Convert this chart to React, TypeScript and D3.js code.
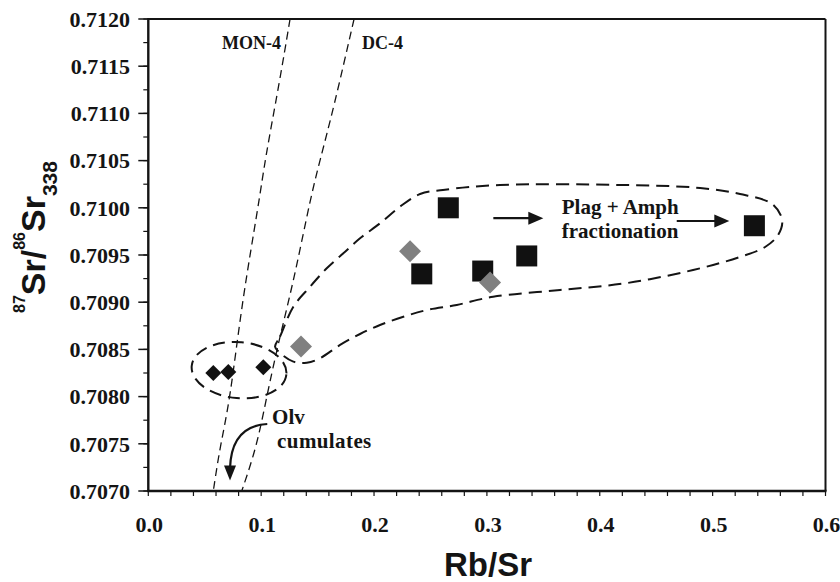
import React from "react";
import * as d3 from "d3";

// ---- data ----
const blackDiamondRbSr = [0.0576, 0.0709, 0.1019];
const blackDiamondSr = [0.70825, 0.70826, 0.70831];
const grayDiamondRbSr = [0.1353, 0.2319, 0.3028];
const grayDiamondSr = [0.70853, 0.70954, 0.70921];
const squareRbSr = [0.2423, 0.2658, 0.2963, 0.3353, 0.537];
const squareSr = [0.7093, 0.71, 0.70933, 0.70949, 0.70981];

const mon4RbSr = [0.1256, 0.1161, 0.1034, 0.0984, 0.0828, 0.0724, 0.0635, 0.0576];
const mon4Sr = [0.712, 0.71132, 0.71051, 0.71008, 0.70899, 0.70796, 0.70747, 0.707];
const dc4RbSr = [0.1823, 0.1639, 0.1522, 0.1433, 0.1315, 0.1211, 0.1138, 0.1049, 0.0961, 0.0828];
const dc4Sr = [0.712, 0.71104, 0.71051, 0.71008, 0.70938, 0.70885, 0.70849, 0.708, 0.70747, 0.707];

const envelopeRbSr = [
  0.1123, 0.1167, 0.1285, 0.1433, 0.1581, 0.1728, 0.1876, 0.2053, 0.223, 0.2408, 0.2611,
  0.3116, 0.418, 0.4889, 0.5243, 0.5527, 0.5616, 0.558, 0.5465, 0.5243, 0.4827, 0.4242,
  0.3648, 0.3055, 0.2733, 0.2467, 0.226, 0.2053, 0.1876, 0.1699, 0.1521, 0.1404, 0.1285,
  0.1167,
];
const envelopeSr = [
  0.708529, 0.708635, 0.708952, 0.709164, 0.709359, 0.709518, 0.709677, 0.709836, 0.710012,
  0.710146, 0.710189, 0.710242, 0.710242, 0.71021, 0.710146, 0.71004, 0.709871, 0.709712,
  0.709585, 0.709479, 0.709341, 0.709203, 0.709129, 0.709058, 0.708971, 0.708917, 0.708846,
  0.708759, 0.708663, 0.708547, 0.708406, 0.708359, 0.70837, 0.708462,
];

// small ellipse around the low Rb/Sr group: centre and radii in data units
const olvGroupCenter = [0.0804, 0.70828];
const olvGroupRadius = [0.0421, 0.000297];

const xTickValues = [0, 0.1, 0.2, 0.3, 0.4, 0.5, 0.6];
const yTickValues = [0.707, 0.7075, 0.708, 0.7085, 0.709, 0.7095, 0.71, 0.7105, 0.711, 0.7115, 0.712];

// annotation anchors (data units)
const arrow1 = [[0.3057, 0.70989], [0.35, 0.70989]];
const arrow2 = [[0.4682, 0.70986], [0.5148, 0.70986]];
const olvArrow = [[0.1054, 0.70771], [0.0735, 0.70769], [0.0724, 0.70724]];
const olvTip = [0.0724, 0.70711];

const W = 840;
const H = 582;

export default function App() {
  const x = d3.scaleLinear().domain([0, 0.6]).range([148.3, 825.5]);
  const y = d3.scaleLinear().domain([0.707, 0.712]).range([491, 19]);

  const left = x(0), right = x(0.6), top = y(0.712), bottom = y(0.707);

  const xMinor = d3.range(0, 0.6001, 0.02);
  const yMinor = d3.range(0.707, 0.71201, 0.00025);

  const mkLine = (xs: number[], ys: number[], curve: any) =>
    d3
      .line<number>()
      .x((d, i) => x(xs[i]))
      .y((d, i) => y(ys[i]))
      .curve(curve)(xs) as string;

  const mon4Path = mkLine(mon4RbSr, mon4Sr, d3.curveBasis);
  const dc4Path = mkLine(dc4RbSr, dc4Sr, d3.curveBasis);
  const envPath = mkLine(envelopeRbSr, envelopeSr, d3.curveCatmullRomClosed.alpha(0.5));

  const diamond = (cx: number, cy: number, h: number) =>
    `M${cx},${cy - h}L${cx + h},${cy}L${cx},${cy + h}L${cx - h},${cy}Z`;

  const ecx = x(olvGroupCenter[0]);
  const ecy = y(olvGroupCenter[1]);
  const erx = x(olvGroupCenter[0] + olvGroupRadius[0]) - ecx;
  const ery = ecy - y(olvGroupCenter[1] + olvGroupRadius[1]);

  const serif = "'Liberation Serif', 'Times New Roman', serif";
  const sans = "'Liberation Sans', Arial, sans-serif";
  const ink = "#141414";

  const straightArrow = (a: number[][], key: string) => {
    const x1 = x(a[0][0]), y1 = y(a[0][1]), x2 = x(a[1][0]), y2 = y(a[1][1]);
    return (
      <g key={key}>
        <line x1={x1} y1={y1} x2={x2 - 12} y2={y2} stroke={ink} strokeWidth={2.2} />
        <path d={`M${x2},${y2}L${x2 - 15},${y2 - 6.5}L${x2 - 15},${y2 + 6.5}Z`} fill={ink} />
      </g>
    );
  };

  const tipX = x(olvTip[0]);
  const tipY = y(olvTip[1]);
  const olvPath = `M${x(olvArrow[0][0])},${y(olvArrow[0][1])}Q${x(olvArrow[1][0])},${y(olvArrow[1][1])} ${x(
    olvArrow[2][0]
  )},${y(olvArrow[2][1])}`;

  return (
    <svg
      width={W}
      height={H}
      viewBox={`0 0 ${W} ${H}`}
      style={{ position: "absolute", left: 0, top: 0, background: "#fff" }}
    >
      <rect x={0} y={0} width={W} height={H} fill="#fff" />
      <defs>
        <clipPath id="plotClip">
          <rect x={left} y={top} width={right - left} height={bottom - top} />
        </clipPath>
      </defs>

      {/* model curves */}
      <g clipPath="url(#plotClip)" fill="none" stroke={ink} strokeWidth={1.3} strokeDasharray="8 5">
        <path d={mon4Path} />
        <path d={dc4Path} />
      </g>

      {/* envelopes */}
      <path d={envPath} fill="none" stroke={ink} strokeWidth={2} strokeDasharray="13 7" />
      <ellipse
        cx={ecx}
        cy={ecy}
        rx={erx}
        ry={ery}
        transform={`rotate(5 ${ecx} ${ecy})`}
        fill="none"
        stroke={ink}
        strokeWidth={2}
        strokeDasharray="12 7"
      />

      {/* data points */}
      {squareRbSr.map((v, i) => (
        <rect key={"s" + i} x={x(v) - 10.5} y={y(squareSr[i]) - 10.5} width={21} height={21} fill="#111" />
      ))}
      {grayDiamondRbSr.map((v, i) => (
        <path key={"g" + i} d={diamond(x(v), y(grayDiamondSr[i]), 11)} fill="#808080" />
      ))}
      {blackDiamondRbSr.map((v, i) => (
        <path key={"b" + i} d={diamond(x(v), y(blackDiamondSr[i]), 8)} fill="#111" />
      ))}

      {/* arrows */}
      {straightArrow(arrow1, "a1")}
      {straightArrow(arrow2, "a2")}
      <path d={olvPath} fill="none" stroke={ink} strokeWidth={2.2} />
      <path d={`M${tipX},${tipY}L${tipX - 6},${tipY - 15}L${tipX + 6},${tipY - 15}Z`} fill={ink} />

      {/* annotation text */}
      <g fontFamily={serif} fontWeight="bold" fill={ink}>
        <text x={x(0.0653)} y={49} fontSize={18}>MON-4</text>
        <text x={x(0.1893)} y={49} fontSize={18}>DC-4</text>
        <text x={x(0.3663)} y={y(0.70993)} fontSize={21}>Plag + Amph</text>
        <text x={x(0.3663)} y={y(0.709677)} fontSize={21}>fractionation</text>
        <text x={x(0.1097)} y={y(0.707713)} fontSize={21}>Olv</text>
        <text x={x(0.1141)} y={y(0.70746)} fontSize={21} letterSpacing={0.4}>cumulates</text>
      </g>

      {/* axes frame */}
      <g stroke={ink} fill="none">
        <line x1={left} y1={top} x2={right} y2={top} strokeWidth={2} />
        <line x1={right} y1={top} x2={right} y2={bottom} strokeWidth={2} />
        <line x1={left} y1={top - 1} x2={left} y2={bottom + 1} strokeWidth={2.4} />
        <line x1={left - 1} y1={bottom} x2={right + 1} y2={bottom} strokeWidth={2.4} />
      </g>

      {/* ticks */}
      <g stroke={ink} strokeWidth={1.2}>
        {xMinor.map((t, i) => (
          <line key={"xm" + i} x1={x(t)} x2={x(t)} y1={bottom} y2={bottom + 5} />
        ))}
        {yMinor.map((t, i) => (
          <line key={"ym" + i} x1={left - 5} x2={left} y1={y(t)} y2={y(t)} />
        ))}
        {yTickValues.map((t, i) => (
          <line key={"yM" + i} x1={left - 10} x2={left} y1={y(t)} y2={y(t)} strokeWidth={1.5} />
        ))}
      </g>

      <g fontFamily={serif} fontWeight="bold" fill={ink} fontSize={22}>
        {xTickValues.map((t, i) => (
          <text key={"xl" + i} x={x(t) + 1} y={532} textAnchor="middle">
            {d3.format(".1f")(t)}
          </text>
        ))}
        {yTickValues.map((t, i) => (
          <text key={"yl" + i} x={130} y={y(t)} dy="0.35em" textAnchor="end">
            {d3.format(".4f")(t)}
          </text>
        ))}
      </g>

      {/* axis titles */}
      <text x={488} y={576} textAnchor="middle" fontFamily={sans} fontWeight="bold" fontSize={33} fill={ink}>
        Rb/Sr
      </text>
      <text
        transform="translate(45,237) rotate(-90)"
        textAnchor="middle"
        fontFamily={sans}
        fontWeight="bold"
        fill={ink}
        fontSize={34}
      >
        <tspan fontSize={16} dy={-20}>87</tspan>
        <tspan dy={20}>Sr/</tspan>
        <tspan fontSize={16} dy={-20}>86</tspan>
        <tspan dy={20}>Sr</tspan>
        <tspan fontSize={21} dy={12}>338</tspan>
      </text>
    </svg>
  );
}
